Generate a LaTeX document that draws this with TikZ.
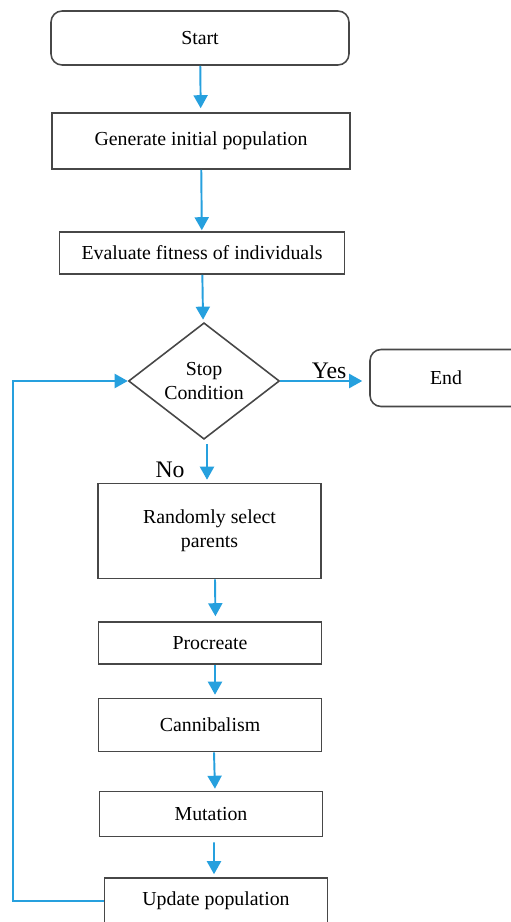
\documentclass[tikz,border=0pt]{standalone}
\usepackage{fontspec}
\setmainfont{Liberation Serif}
\usetikzlibrary{arrows.meta,positioning,shapes.geometric}
\definecolor{flowblue}{RGB}{38,160,222}

\begin{document}
\begin{tikzpicture}[x=0.02cm,y=-0.02cm,every node/.style={font=\fontsize{11.3}{13.5}\selectfont},
  procbox/.style={draw=black!72,line width=.9pt,align=center,inner sep=2pt},
  termbox/.style={procbox,rounded corners=0.22cm},
  decision/.style={draw=black!72,line width=.9pt,diamond,align=center,inner sep=0pt,minimum width=3.02cm,minimum height=2.26cm},
  flowarrow/.style={draw=flowblue,line width=1.1pt,-{Triangle[width=8pt,length=7.4pt]}},
  branchlabel/.style={font=\fontsize{13.5}{15}\selectfont}]
\useasboundingbox (0,0) rectangle (510,922);
% main column
\node[termbox,minimum width=5.96cm,minimum height=1.08cm] (start) at (200,38) {Start};
\node[procbox,minimum width=5.96cm,minimum height=1.12cm] (init) at (201,141) {Generate initial population};
\node[procbox,minimum width=5.70cm,minimum height=0.84cm] (eval) at (202,253) {Evaluate fitness of individuals};
\node[decision] (cond) at (204,381) {Stop\\Condition};
\node[termbox,minimum width=3.04cm,minimum height=1.14cm] (stop) at (446,378) {End};
\node[procbox,minimum width=4.46cm,minimum height=1.90cm] (select) at (209.5,531) {Randomly select\\parents};
\node[procbox,minimum width=4.46cm,minimum height=0.84cm] (procreate) at (210,643) {Procreate};
\node[procbox,minimum width=4.46cm,minimum height=1.06cm] (cannibal) at (210,725) {Cannibalism};
\node[procbox,minimum width=4.46cm,minimum height=0.90cm] (mutate) at (211,814) {Mutation};
\node[procbox,minimum width=4.46cm,minimum height=0.92cm] (update) at (216,901) {Update population};
% connectors
\draw[flowarrow,shorten >=0.08cm] (start) -- (init);
\draw[flowarrow,shorten >=0.02cm] (init) -- (eval);
\draw[flowarrow,shorten >=0.06cm] (eval) -- (cond);
\draw[flowarrow,shorten >=0.14cm] (cond.east) -- node[branchlabel,above,pos=.55,inner sep=1pt] (yes) {Yes} (cond.east -| stop.west);
\draw[flowarrow,shorten <=0.08cm,shorten >=0.06cm] ([xshift=0.06cm]cond.south) -- ([xshift=-0.05cm]select.north);
\node[branchlabel] (no) at (170,470) {No};
\draw[flowarrow,shorten >=0.1cm] ([xshift=0.11cm]select.south) -- ([xshift=0.11cm]procreate.north);
\draw[flowarrow,shorten >=0.06cm] ([xshift=0.1cm]procreate.south) -- ([xshift=0.1cm]cannibal.north);
\draw[flowarrow,shorten >=0.04cm] ([xshift=0.08cm]cannibal.south) -- ([xshift=0.08cm]mutate.north);
\draw[flowarrow,shorten <=0.1cm,shorten >=0.06cm] ([xshift=0.06cm]mutate.south) -- ([xshift=-0.04cm]update.north);
% loop back
\draw[flowarrow] (update.west) -- ++(-91,0) |- (cond.west);
\end{tikzpicture}
\end{document}
